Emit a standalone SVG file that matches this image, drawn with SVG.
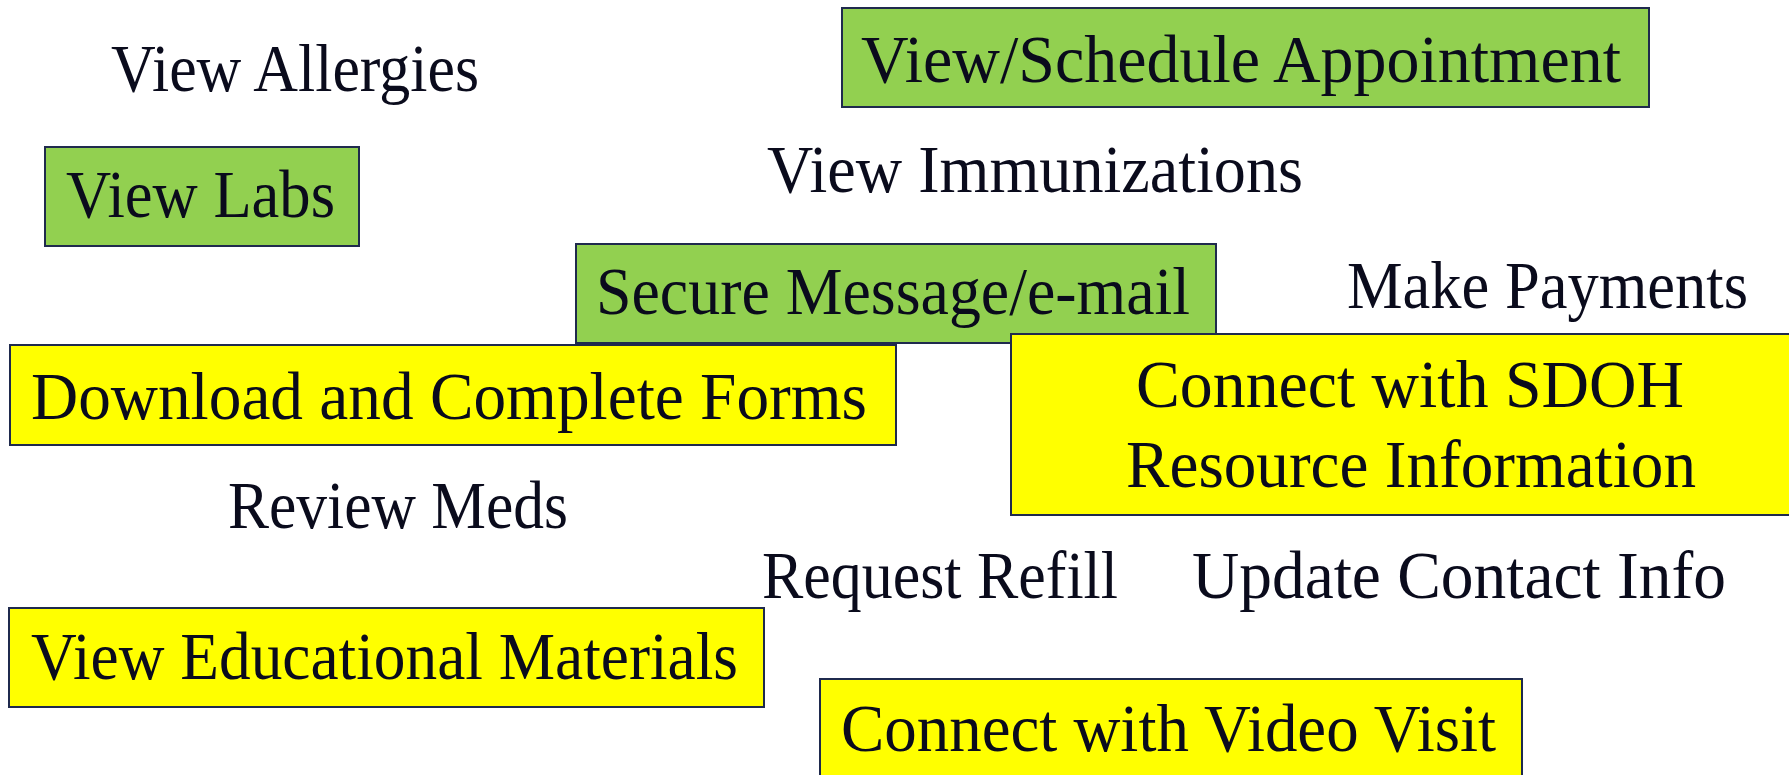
<svg xmlns="http://www.w3.org/2000/svg" width="1789" height="775" viewBox="0 0 1789 775">
  <style>
    .bg { fill: #ffffff; }
    .box { stroke: #1f2a4d; stroke-width: 2; }
    .green { fill: #92d050; }
    .yellow { fill: #ffff00; }
    .lbl { font-family: "Liberation Serif", "DejaVu Serif", serif; font-size: 67px; fill: #0a0b1c; }
  </style>
  <rect class="bg" x="0" y="0" width="1789" height="775"/>

  <g id="view-allergies">
    <text class="lbl" x="111" y="91" textLength="368" lengthAdjust="spacingAndGlyphs">View Allergies</text>
  </g>

  <g id="view-labs">
    <rect class="box green" x="45" y="147" width="314" height="99"/>
    <text class="lbl" x="66" y="217" textLength="269" lengthAdjust="spacingAndGlyphs">View Labs</text>
  </g>

  <g id="view-schedule-appointment">
    <rect class="box green" x="842" y="8" width="807" height="99"/>
    <text class="lbl" x="861" y="82" textLength="760" lengthAdjust="spacingAndGlyphs">View/Schedule Appointment</text>
  </g>

  <g id="view-immunizations">
    <text class="lbl" x="767" y="192" textLength="536" lengthAdjust="spacingAndGlyphs">View Immunizations</text>
  </g>

  <g id="secure-message">
    <rect class="box green" x="576" y="244" width="640" height="99"/>
    <text class="lbl" x="596" y="314" textLength="594" lengthAdjust="spacingAndGlyphs">Secure Message/e-mail</text>
  </g>

  <g id="make-payments">
    <text class="lbl" x="1347" y="308" textLength="401" lengthAdjust="spacingAndGlyphs">Make Payments</text>
  </g>

  <g id="sdoh-resources">
    <rect class="box yellow" x="1011" y="334" width="790" height="181"/>
    <text class="lbl" x="1136" y="407" textLength="548" lengthAdjust="spacingAndGlyphs">Connect with SDOH</text>
    <text class="lbl" x="1126" y="487" textLength="570" lengthAdjust="spacingAndGlyphs">Resource Information</text>
  </g>

  <g id="download-forms">
    <rect class="box yellow" x="10" y="345" width="886" height="100"/>
    <text class="lbl" x="31" y="419" textLength="836" lengthAdjust="spacingAndGlyphs">Download and Complete Forms</text>
  </g>

  <g id="review-meds">
    <text class="lbl" x="228" y="528" textLength="340" lengthAdjust="spacingAndGlyphs">Review Meds</text>
  </g>

  <g id="request-refill">
    <text class="lbl" x="762" y="598" textLength="356" lengthAdjust="spacingAndGlyphs">Request Refill</text>
  </g>

  <g id="update-contact">
    <text class="lbl" x="1192" y="598" textLength="534" lengthAdjust="spacingAndGlyphs">Update Contact Info</text>
  </g>

  <g id="educational-materials">
    <rect class="box yellow" x="9" y="608" width="755" height="99"/>
    <text class="lbl" x="31" y="679" textLength="707" lengthAdjust="spacingAndGlyphs">View Educational Materials</text>
  </g>

  <g id="video-visit">
    <rect class="box yellow" x="820" y="679" width="702" height="110"/>
    <text class="lbl" x="841" y="751" textLength="655" lengthAdjust="spacingAndGlyphs">Connect with Video Visit</text>
  </g>

  <g id="connectors"></g>
</svg>
